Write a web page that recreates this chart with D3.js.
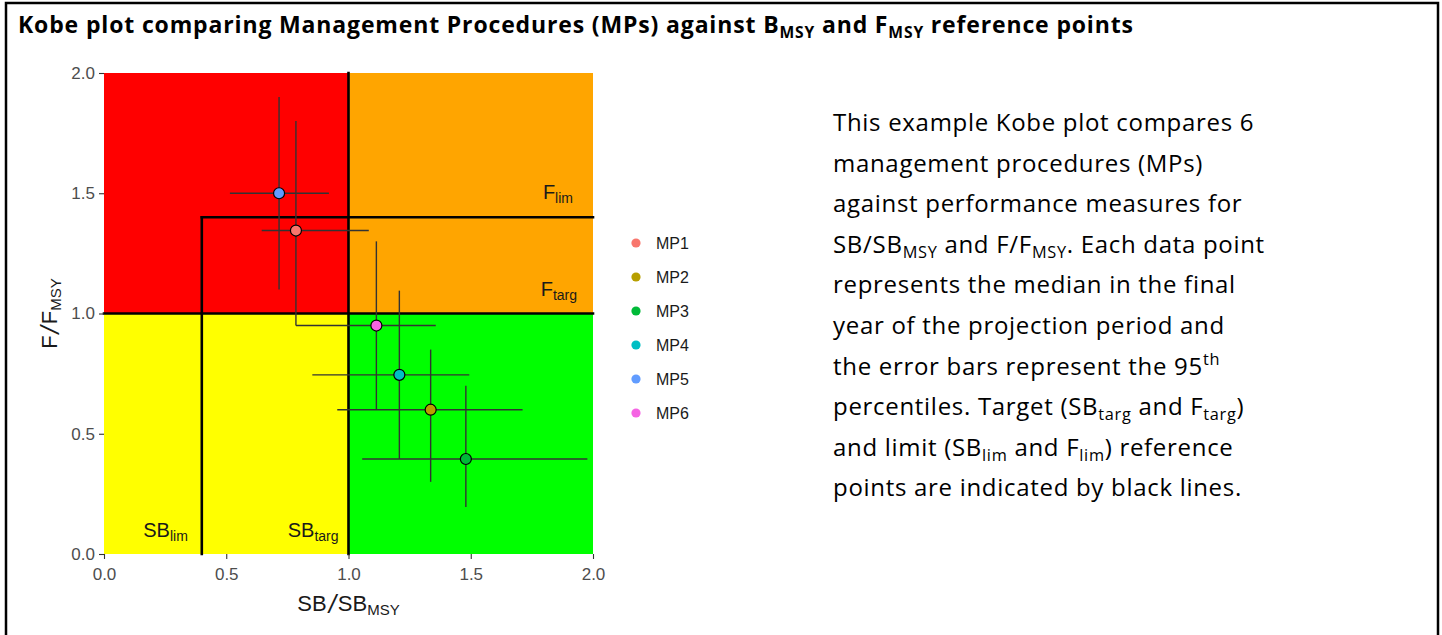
<!DOCTYPE html>
<html>
<head>
<meta charset="utf-8">
<script src="https://cdn.jsdelivr.net/npm/d3@7"></script>
<style>
  body { margin: 0; background: #fff; }
</style>
</head>
<body>
<div id="chart"></div>
<script>
// Set up the SVG container
var width = 1442;
var height = 635;

// data
var mps = ["MP1", "MP2", "MP3", "MP4", "MP5", "MP6"];
var sbMedian = [0.785, 1.336, 1.48, 1.208, 0.716, 1.114];
var sbLow = [0.645, 0.954, 1.056, 0.852, 0.515, 0.785];
var sbHigh = [1.083, 1.712, 1.977, 1.494, 0.92, 1.357];
var fMedian = [1.345, 0.6, 0.395, 0.745, 1.5, 0.95];
var fLow = [0.95, 0.3, 0.195, 0.395, 1.1, 0.6];
var fHigh = [1.8, 0.85, 0.7, 1.095, 1.9, 1.3];
var tickValues = [0, 0.5, 1, 1.5, 2];
var sbTarg = 1.0, sbLim = 0.4, fTarg = 1.0, fLim = 1.4;

var mpColors = ["#F8766D", "#B79F00", "#00BA38", "#00BFC4", "#619CFF", "#F564E3"];

var svg = d3
  .select("#chart")
  .append("svg")
  .attr("width", width)
  .attr("height", height)
  .style("display", "block");

// frame around the whole figure
svg
  .append("rect")
  .attr("x", 6)
  .attr("y", 3)
  .attr("width", 1432)
  .attr("height", 700)
  .style("fill", "none")
  .style("stroke", "#000")
  .style("stroke-width", 2.5);

// title, with subscripts
var titleParts = [
  ["Kobe plot comparing Management Procedures (MPs) against B", "n"],
  ["MSY", "sub"],
  [" and F", "n"],
  ["MSY", "sub"],
  [" reference points", "n"]
];

function richText(sel, parts, size) {
  parts.forEach(function (p, i) {
    var t = sel.append("tspan").text(p[0]);
    var prev = i > 0 ? parts[i - 1][1] : "n";
    var shift = 0;
    // undo the previous shift
    if (prev === "sub") shift -= size * 0.22;
    if (prev === "sup") shift += size * 0.4;
    if (p[1] === "sub") {
      t.attr("font-size", size * 0.68);
      shift += size * 0.22;
    } else if (p[1] === "sup") {
      t.attr("font-size", size * 0.68);
      shift -= size * 0.4;
    } else {
      t.attr("font-size", size);
    }
    if (shift !== 0) t.attr("dy", shift);
  });
}

var title = svg
  .append("text")
  .attr("x", 18)
  .attr("y", 33)
  .style("font-family", "'Open Sans', sans-serif")
  .style("font-weight", "bold")
  .style("letter-spacing", "0.85px")
  .style("fill", "#000");
richText(title, titleParts, 23);

// Kobe plot
var x = d3.scaleLinear().domain([0, 2]).range([104, 593]);
var y = d3.scaleLinear().domain([0, 2]).range([554, 73]);

var zones = [
  { sb: [0, sbTarg], f: [fTarg, 2], color: "#FF0000" },
  { sb: [sbTarg, 2], f: [fTarg, 2], color: "#FFA500" },
  { sb: [0, sbTarg], f: [0, fTarg], color: "#FFFF00" },
  { sb: [sbTarg, 2], f: [0, fTarg], color: "#00FF00" }
];

svg
  .selectAll(".zone")
  .data(zones)
  .enter()
  .append("rect")
  .attr("class", "zone")
  .attr("x", (d) => x(d.sb[0]))
  .attr("y", (d) => y(d.f[1]))
  .attr("width", (d) => x(d.sb[1]) - x(d.sb[0]))
  .attr("height", (d) => y(d.f[0]) - y(d.f[1]))
  .style("fill", (d) => d.color);

// reference lines
var refLines = [
  { x1: sbTarg, x2: sbTarg, y1: 0, y2: 2 },
  { x1: 0, x2: 2, y1: fTarg, y2: fTarg },
  { x1: sbLim, x2: sbLim, y1: 0, y2: fLim },
  { x1: sbLim, x2: 2, y1: fLim, y2: fLim }
];

svg
  .selectAll(".ref")
  .data(refLines)
  .enter()
  .append("line")
  .attr("class", "ref")
  .attr("x1", (d) => x(d.x1))
  .attr("x2", (d) => x(d.x2))
  .attr("y1", (d) => y(d.y1))
  .attr("y2", (d) => y(d.y2))
  .style("stroke", "#000")
  .style("stroke-width", 2.6)
  .style("stroke-linecap", "square");

// reference point labels
var labelFont = "'Liberation Sans', Arial, sans-serif";
var refLabels = [
  { parts: [["F", "n"], ["lim", "sub"]], px: x(2) - 20, py: y(fLim) - 18 },
  { parts: [["F", "n"], ["targ", "sub"]], px: x(2) - 16, py: y(fTarg) - 18 },
  { parts: [["SB", "n"], ["lim", "sub"]], px: x(sbLim) - 14, py: y(0) - 17 },
  { parts: [["SB", "n"], ["targ", "sub"]], px: x(sbTarg) - 10, py: y(0) - 17 }
];
refLabels.forEach(function (l) {
  var t = svg
    .append("text")
    .attr("x", l.px)
    .attr("y", l.py)
    .attr("text-anchor", "end")
    .style("font-family", labelFont)
    .style("fill", "#1a1a1a");
  t.append("tspan").attr("font-size", 20).text(l.parts[0][0]);
  t.append("tspan").attr("font-size", 14).attr("dy", 4).text(l.parts[1][0]);
});

// error bars
var idx = d3.range(mps.length);
svg
  .selectAll(".hbar")
  .data(idx)
  .enter()
  .append("line")
  .attr("class", "hbar")
  .attr("x1", (i) => x(sbLow[i]))
  .attr("x2", (i) => x(sbHigh[i]))
  .attr("y1", (i) => y(fMedian[i]))
  .attr("y2", (i) => y(fMedian[i]))
  .style("stroke", "#333")
  .style("stroke-width", 1.4);

svg
  .selectAll(".vbar")
  .data(idx)
  .enter()
  .append("line")
  .attr("class", "vbar")
  .attr("x1", (i) => x(sbMedian[i]))
  .attr("x2", (i) => x(sbMedian[i]))
  .attr("y1", (i) => y(fLow[i]))
  .attr("y2", (i) => y(fHigh[i]))
  .style("stroke", "#333")
  .style("stroke-width", 1.4);

// points
svg
  .selectAll(".pt")
  .data(idx)
  .enter()
  .append("circle")
  .attr("class", "pt")
  .attr("cx", (i) => x(sbMedian[i]))
  .attr("cy", (i) => y(fMedian[i]))
  .attr("r", 5.5)
  .style("fill", (i) => mpColors[i])
  .style("stroke", "#000")
  .style("stroke-width", 1.2);

// axes
var xAxis = svg
  .append("g")
  .attr("transform", "translate(0," + y(0) + ")")
  .call(d3.axisBottom(x).tickValues(tickValues).tickFormat(d3.format(".1f")).tickSize(5).tickPadding(9));
var yAxis = svg
  .append("g")
  .attr("transform", "translate(" + x(0) + ",0)")
  .call(d3.axisLeft(y).tickValues(tickValues).tickFormat(d3.format(".1f")).tickSize(5).tickPadding(4));

[xAxis, yAxis].forEach(function (a) {
  a.select(".domain").remove();
  a.selectAll(".tick line").style("stroke", "#333").style("stroke-width", 1.1);
  a.selectAll(".tick text")
    .style("font-family", labelFont)
    .style("font-size", "17px")
    .style("fill", "#4D4D4D");
});

// axis titles
function axisTitle(sel, a, b) {
  sel.append("tspan").attr("font-size", 22).text(a);
  sel.append("tspan").attr("font-size", 26).attr("dx", 2).attr("dy", 2)
    .style("font-style", "italic").text("/");
  sel.append("tspan").attr("font-size", 22).attr("dx", 2).attr("dy", -2).text(b);
  sel.append("tspan").attr("font-size", 15).attr("dy", 4).text("MSY");
}

var xTitle = svg
  .append("text")
  .attr("x", x(1))
  .attr("y", 611)
  .attr("text-anchor", "middle")
  .style("font-family", labelFont)
  .style("fill", "#1a1a1a");
axisTitle(xTitle, "SB", "SB");

var yTitle = svg
  .append("text")
  .attr("transform", "translate(57," + y(1) + ") rotate(-90)")
  .attr("text-anchor", "middle")
  .style("font-family", labelFont)
  .style("fill", "#1a1a1a");
axisTitle(yTitle, "F", "F");

// legend
var legend = svg
  .selectAll(".legend")
  .data(idx)
  .enter()
  .append("g")
  .attr("class", "legend")
  .attr("transform", (i) => "translate(636," + (243 + i * 34) + ")");

legend
  .append("circle")
  .attr("r", 4.6)
  .style("fill", (i) => mpColors[i]);

legend
  .append("text")
  .attr("x", 20)
  .attr("dy", "0.36em")
  .style("font-family", labelFont)
  .style("font-size", "16px")
  .style("fill", "#1a1a1a")
  .text((i) => mps[i]);

// description text on the right
var descLines = [
  [["This example Kobe plot compares 6", "n"]],
  [["management procedures (MPs)", "n"]],
  [["against performance measures for", "n"]],
  [["SB/SB", "n"], ["MSY", "sub"], [" and F/F", "n"], ["MSY", "sub"], [". Each data point", "n"]],
  [["represents the median in the final", "n"]],
  [["year of the projection period and", "n"]],
  [["the error bars represent the 95", "n"], ["th", "sup"]],
  [["percentiles. Target (SB", "n"], ["targ", "sub"], [" and F", "n"], ["targ", "sub"], [")", "n"]],
  [["and limit (SB", "n"], ["lim", "sub"], [" and F", "n"], ["lim", "sub"], [") reference", "n"]],
  [["points are indicated by black lines.", "n"]]
];

descLines.forEach(function (parts, i) {
  var t = svg
    .append("text")
    .attr("x", 833)
    .attr("y", 131 + i * 40.6)
    .style("font-family", "'Open Sans', sans-serif")
    .style("letter-spacing", "0.7px")
    .style("fill", "#000");
  richText(t, parts, 24);
});
</script>
</body>
</html>
